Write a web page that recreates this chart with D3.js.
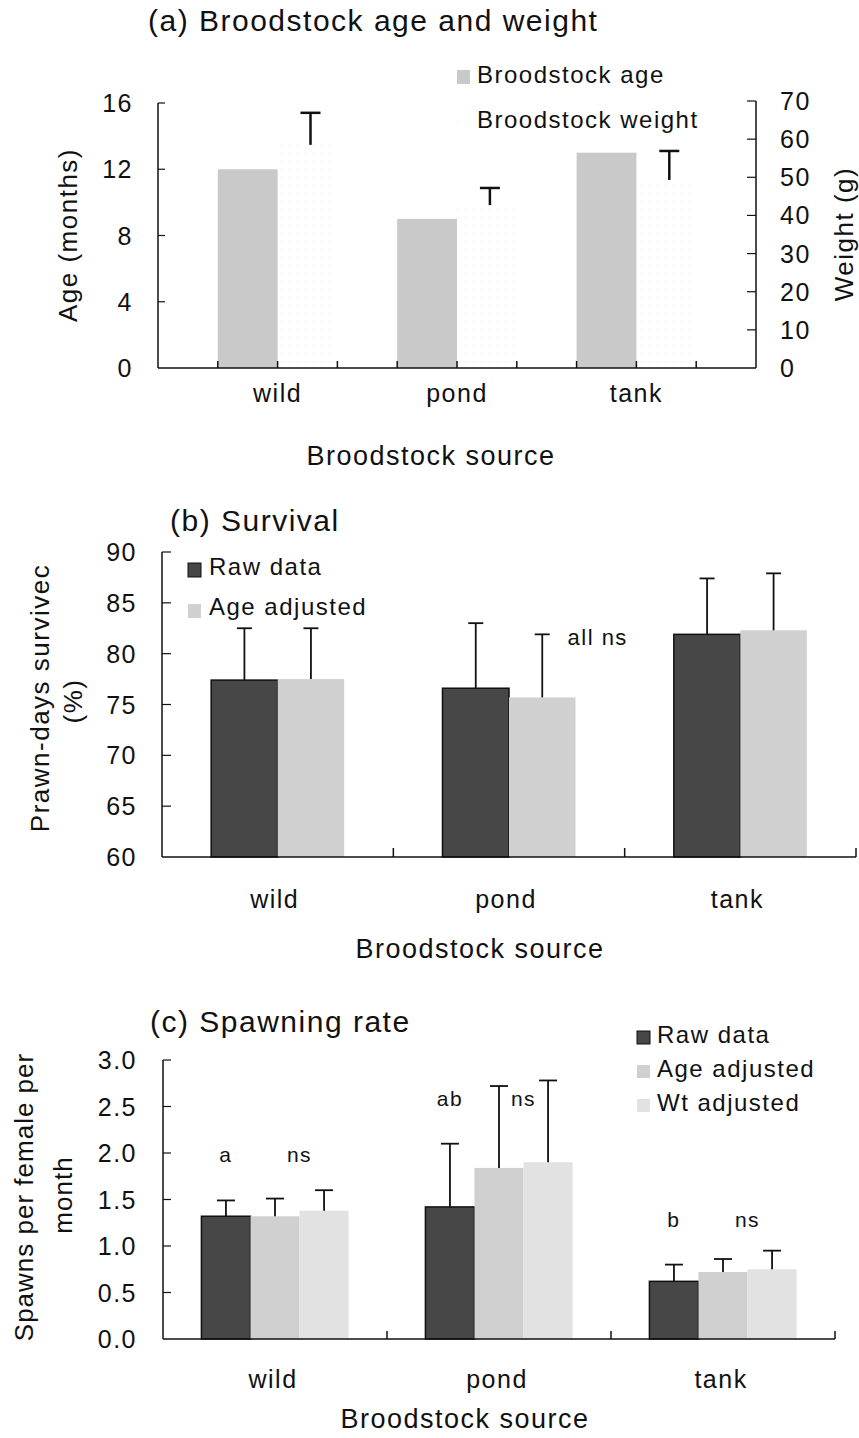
<!DOCTYPE html>
<html><head><meta charset="utf-8">
<script src="https://cdn.jsdelivr.net/npm/d3@7"></script>
<style>
body{margin:0;background:#fff}
svg{display:block}
text{font-family:"Liberation Sans",Arial,Helvetica,sans-serif;fill:#111}
</style>
</head><body>
<svg id="chart" width="859" height="1438"></svg>
<script>
// ---------- data ----------
const categories = ["wild", "pond", "tank"];

// (a) Broodstock age and weight
const ageTicks = [0, 4, 8, 12, 16];
const weightTicks = [0, 10, 20, 30, 40, 50, 60, 70];
const broodAge = [12, 9, 13];
const broodWeight = [58.5, 42.7, 49.3];
const broodWeightErr = [8.4, 4.5, 7.6];

// (b) Survival
const survTicks = [60, 65, 70, 75, 80, 85, 90];
const survRaw = [77.4, 76.6, 81.9];
const survRawErr = [5.1, 6.4, 5.5];
const survAge = [77.5, 75.7, 82.3];
const survAgeErr = [5.0, 6.2, 5.6];

// (c) Spawning rate
const spawnTicks = [0, 0.5, 1.0, 1.5, 2.0, 2.5, 3.0];
const spawnRaw = [1.32, 1.42, 0.62];
const spawnRawErr = [0.17, 0.68, 0.18];
const spawnAge = [1.32, 1.84, 0.72];
const spawnAgeErr = [0.19, 0.88, 0.14];
const spawnWt = [1.38, 1.90, 0.75];
const spawnWtErr = [0.22, 0.88, 0.20];
const spawnLetters = ["a", "ab", "b"];

// ---------- styles ----------
const C_DARK = "#474747", C_AGE = "#c9c9c9", C_AGE2 = "#d0d0d0", C_WT = "#e2e2e2";
const LS = "1.5px";

const svg = d3.select("#chart");
const defs = svg.append("defs");
const pat = defs.append("pattern").attr("id", "dots").attr("width", 8).attr("height", 8)
  .attr("patternUnits", "userSpaceOnUse");
pat.append("circle").attr("cx", 2).attr("cy", 2).attr("r", 0.6).attr("fill", "#d8d8d8");

function txt(g, x, y, s, size, anchor) {
  return g.append("text").attr("x", x).attr("y", y).text(s)
    .style("font-size", size + "px").style("letter-spacing", LS)
    .attr("text-anchor", anchor || "start");
}
function line(g, x1, y1, x2, y2, w) {
  g.append("line").attr("x1", x1).attr("y1", y1).attr("x2", x2).attr("y2", y2)
    .attr("stroke", "#111").attr("stroke-width", w || 1.5);
}
function vlabel(g, cx, cy, s, size, ls) {
  g.append("text").attr("transform", `translate(${cx},${cy}) rotate(-90)`)
    .attr("text-anchor", "middle").text(s)
    .style("font-size", size + "px").style("letter-spacing", ls || LS);
}
function errBar(g, x, y0, y1, cap, w) {
  line(g, x, y0, x, y1, w);
  line(g, x - cap / 2, y1, x + cap / 2, y1, w);
}
function catAxis(g, x, B, pad, dx) {
  const ax = g.append("g").attr("transform", `translate(0,${B})`)
    .call(d3.axisBottom(x).tickSize(0).tickPadding(pad));
  ax.select(".domain").remove();
  ax.selectAll("text").style("font-size", "25px").style("letter-spacing", LS)
    .style("font-family", '"Liberation Sans",Arial,sans-serif').attr("fill", "#111").attr("dx", dx);
}

// ===================== (a) =====================
{
  const g = svg.append("g");
  const L = 158, R = 756, B = 368;
  const x = d3.scaleBand().domain(categories).range([L, R]).paddingInner(0).paddingOuter(1 / 6);
  const w = x.bandwidth() / 3;
  const yA = d3.scaleLinear().domain([0, 16]).range([B, 103]);
  const yW = d3.scaleLinear().domain([0, 70]).range([B, 101]);
  const cx = c => x(c) + x.bandwidth() / 2;

  txt(g, 148, 31, "(a) Broodstock age and weight", 30, "start");

  g.selectAll(".age").data(categories).join("rect")
    .attr("x", c => cx(c) - w).attr("width", w)
    .attr("y", (c, i) => yA(broodAge[i])).attr("height", (c, i) => B - yA(broodAge[i]))
    .attr("fill", C_AGE);
  g.selectAll(".wt").data(categories).join("rect")
    .attr("x", c => cx(c)).attr("width", w)
    .attr("y", (c, i) => yW(broodWeight[i])).attr("height", (c, i) => B - yW(broodWeight[i]))
    .attr("fill", "url(#dots)");
  categories.forEach((c, i) => {
    errBar(g, cx(c) + w / 2 + 3, yW(broodWeight[i]), yW(broodWeight[i] + broodWeightErr[i]), 20, 2.5);
  });

  line(g, L, yA(16), L, B);
  line(g, R, yW(70), R, B);
  line(g, L, B, R, B);
  ageTicks.forEach(t => {
    if (t > 0) line(g, L, yA(t), L + 7, yA(t), 1.2);
    txt(g, 133, yA(t) + 9, String(t), 25, "end");
  });
  weightTicks.forEach(t => {
    if (t > 0) line(g, R, yW(t), R - 9, yW(t), 1.2);
    txt(g, 780, yW(t) + 9, String(t), 25, "start");
  });
  categories.forEach(c => {
    [-w, 0, w].forEach(o => line(g, cx(c) + o, B, cx(c) + o, B - 7, 1.5));
  });
  catAxis(g, x, B, 16, "0");

  vlabel(g, 77, 235, "Age (months)", 26);
  vlabel(g, 853, 234, "Weight (g)", 26);
  txt(g, 431, 465, "Broodstock source", 27, "middle");

  g.append("rect").attr("x", 457).attr("y", 70).attr("width", 13).attr("height", 14).attr("fill", C_AGE);
  txt(g, 477, 83, "Broodstock age", 24, "start");
  g.append("rect").attr("x", 457).attr("y", 115).attr("width", 13).attr("height", 14).attr("fill", "url(#dots)");
  txt(g, 477, 128, "Broodstock weight", 24, "start");
}

// ===================== (b) =====================
{
  const g = svg.append("g");
  const L = 162, R = 856, B = 857;
  const x = d3.scaleBand().domain(categories).range([L, R]).padding(0);
  const bw = x.bandwidth() * 0.2875;
  const y = d3.scaleLinear().domain([60, 90]).range([B, 552]);
  const cx = c => x(c) + x.bandwidth() / 2;

  txt(g, 170, 531, "(b) Survival", 30, "start");

  const series = [
    { v: survRaw, e: survRawErr, fill: C_DARK, off: -1, stroke: "#111" },
    { v: survAge, e: survAgeErr, fill: C_AGE2, off: 0, stroke: "none" }
  ];
  series.forEach(s => {
    g.selectAll(null).data(categories).join("rect")
      .attr("x", c => cx(c) + s.off * bw).attr("width", bw)
      .attr("y", (c, i) => y(s.v[i])).attr("height", (c, i) => B - y(s.v[i]))
      .attr("fill", s.fill).attr("stroke", s.stroke).attr("stroke-width", 1.5);
    categories.forEach((c, i) => {
      errBar(g, cx(c) + s.off * bw + bw / 2, y(s.v[i]), y(s.v[i] + s.e[i]), 15, 1.8);
    });
  });

  line(g, L, y(90), L, B);
  line(g, L, B, R, B);
  survTicks.forEach(t => {
    if (t > 60) line(g, L, y(t), L + 9, y(t), 1.2);
    txt(g, 137, y(t) + 9, String(t), 25, "end");
  });
  categories.forEach(c => line(g, x(c) + x.bandwidth(), B, x(c) + x.bandwidth(), B - 9, 1.5));
  catAxis(g, x, B, 33, "-3");

  txt(g, cx("pond") + bw * 0.88, y(survAge[1] + survAgeErr[1]) + 11, "all ns", 22, "start");

  vlabel(g, 49, 698, "Prawn-days survivec", 26);
  vlabel(g, 82, 701, "(%)", 26);
  txt(g, 480, 958, "Broodstock source", 27, "middle");

  g.append("rect").attr("x", 188).attr("y", 563).attr("width", 13).attr("height", 14)
    .attr("fill", C_DARK).attr("stroke", "#111").attr("stroke-width", 1);
  txt(g, 209, 575, "Raw data", 24, "start");
  g.append("rect").attr("x", 188).attr("y", 604).attr("width", 13).attr("height", 14).attr("fill", C_AGE2);
  txt(g, 209, 615, "Age adjusted", 24, "start");
}

// ===================== (c) =====================
{
  const g = svg.append("g");
  const L = 163, R = 835, B = 1339;
  const x = d3.scaleBand().domain(categories).range([L, R]).padding(0);
  const bw = x.bandwidth() * 0.219;
  const y = d3.scaleLinear().domain([0, 3]).range([B, 1060]);
  const cx = c => x(c) + x.bandwidth() / 2;

  txt(g, 150, 1032, "(c) Spawning rate", 30, "start");

  const series = [
    { v: spawnRaw, e: spawnRawErr, fill: C_DARK, off: -1.5, stroke: "#111" },
    { v: spawnAge, e: spawnAgeErr, fill: C_AGE2, off: -0.5, stroke: "none" },
    { v: spawnWt, e: spawnWtErr, fill: C_WT, off: 0.5, stroke: "none" }
  ];
  series.forEach(s => {
    g.selectAll(null).data(categories).join("rect")
      .attr("x", c => cx(c) + s.off * bw).attr("width", bw)
      .attr("y", (c, i) => y(s.v[i])).attr("height", (c, i) => B - y(s.v[i]))
      .attr("fill", s.fill).attr("stroke", s.stroke).attr("stroke-width", 1.5);
    categories.forEach((c, i) => {
      errBar(g, cx(c) + s.off * bw + bw / 2, y(s.v[i]), y(s.v[i] + s.e[i]), 18, 1.8);
    });
  });

  line(g, L, y(3), L, B);
  line(g, L, B, R, B);
  spawnTicks.forEach(t => {
    if (t > 0) line(g, L, y(t), L + 8, y(t), 1.2);
    txt(g, 137, y(t) + 9, d3.format(".1f")(t), 25, "end");
  });
  categories.forEach(c => line(g, x(c) + x.bandwidth(), B, x(c) + x.bandwidth(), B - 8, 1.5));
  catAxis(g, x, B, 31, "-2");

  categories.forEach((c, i) => {
    const yl = y(spawnRaw[i] + spawnRawErr[i]) - 38;
    txt(g, cx(c) - bw, yl, spawnLetters[i], 21, "middle");
    txt(g, cx(c) + bw * 0.5, yl, "ns", 21, "middle");
  });

  vlabel(g, 33, 1197, "Spawns per female per", 26, "1px");
  vlabel(g, 72, 1195, "month", 26, "1px");
  txt(g, 465, 1428, "Broodstock source", 27, "middle");

  const leg = [["Raw data", C_DARK], ["Age adjusted", C_AGE2], ["Wt adjusted", C_WT]];
  leg.forEach((d, i) => {
    g.append("rect").attr("x", 637).attr("y", 1031 + i * 34).attr("width", 13).attr("height", 13)
      .attr("fill", d[1]).attr("stroke", i === 0 ? "#111" : "none").attr("stroke-width", 1);
    txt(g, 657, 1043 + i * 34, d[0], 24, "start");
  });
}
</script>
</body></html>
